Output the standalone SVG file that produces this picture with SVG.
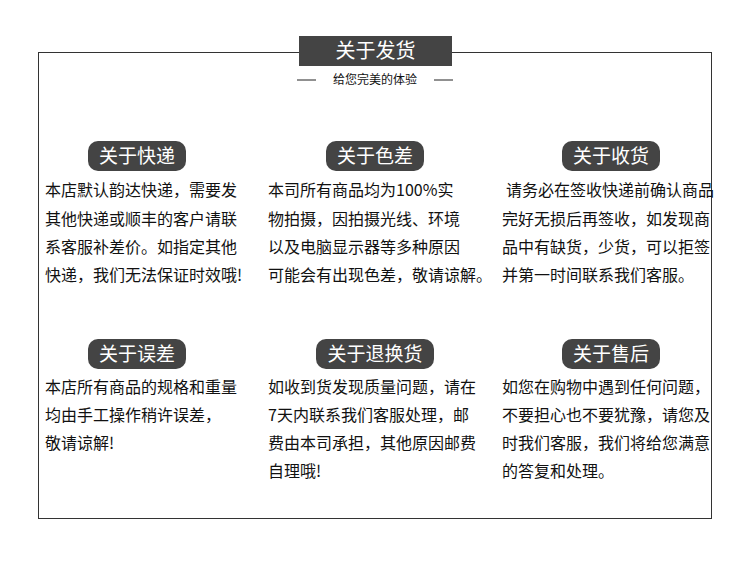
<svg xmlns="http://www.w3.org/2000/svg" width="750" height="586" viewBox="0 0 750 586">
<style>
.t{font-family:"Noto Sans CJK SC","Liberation Sans",sans-serif;font-size:16px;fill:#111}
.p{fill:#444}
.pt{font-family:"Noto Sans CJK SC",sans-serif;font-size:19px;fill:#fff;text-anchor:middle}
</style>
<rect width="750" height="586" fill="#fff"/>
<rect x="38.5" y="52.5" width="673" height="466" fill="none" stroke="#333" stroke-width="1"/>
<g id="title">
<rect x="299" y="36" width="153" height="30" fill="#444"/>
<text x="375.5" y="58" class="pt" style="font-size:20px">关于发货</text>
<line x1="297" y1="80" x2="316" y2="80" stroke="#222"/>
<line x1="434" y1="80" x2="453" y2="80" stroke="#222"/>
<text x="375" y="84" class="t" style="font-size:12px" text-anchor="middle">给您完美的体验</text>
</g>
<g id="n1"><rect class="p" x="88" y="141" width="98" height="30" rx="10"/><text class="pt" x="137" y="163">关于快递</text>
<text class="t" x="45" y="196">本店默认韵达快递，需要发</text><text class="t" x="45" y="225">其他快递或顺丰的客户请联</text><text class="t" x="45" y="253">系客服补差价。如指定其他</text><text class="t" x="45" y="281">快递，我们无法保证时效哦!</text></g>
<g id="n2"><rect class="p" x="326" y="141" width="98" height="30" rx="10"/><text class="pt" x="375" y="163">关于色差</text>
<text class="t" x="268" y="196">本司所有商品均为100%实</text><text class="t" x="268" y="225">物拍摄，因拍摄光线、环境</text><text class="t" x="268" y="253">以及电脑显示器等多种原因</text><text class="t" x="268" y="281">可能会有出现色差，敬请谅解。</text></g>
<g id="n3"><rect class="p" x="562" y="141" width="98" height="30" rx="10"/><text class="pt" x="611" y="163">关于收货</text>
<text class="t" x="506" y="196">请务必在签收快递前确认商品</text><text class="t" x="502" y="225">完好无损后再签收，如发现商</text><text class="t" x="502" y="253">品中有缺货，少货，可以拒签</text><text class="t" x="502" y="281">并第一时间联系我们客服。</text></g>
<g id="n4"><rect class="p" x="88" y="339" width="98" height="30" rx="10"/><text class="pt" x="137" y="361">关于误差</text>
<text class="t" x="45" y="393">本店所有商品的规格和重量</text><text class="t" x="45" y="421">均由手工操作稍许误差，</text><text class="t" x="45" y="449">敬请谅解!</text></g>
<g id="n5"><rect class="p" x="316" y="339" width="118" height="30" rx="10"/><text class="pt" x="375" y="361">关于退换货</text>
<text class="t" x="268" y="393">如收到货发现质量问题，请在</text><text class="t" x="268" y="421">7天内联系我们客服处理，邮</text><text class="t" x="268" y="449">费由本司承担，其他原因邮费</text><text class="t" x="268" y="477">自理哦!</text></g>
<g id="n6"><rect class="p" x="562" y="339" width="98" height="30" rx="10"/><text class="pt" x="611" y="361">关于售后</text>
<text class="t" x="502" y="393">如您在购物中遇到任何问题，</text><text class="t" x="502" y="421">不要担心也不要犹豫，请您及</text><text class="t" x="502" y="449">时我们客服，我们将给您满意</text><text class="t" x="502" y="477">的答复和处理。</text></g>
</svg>
